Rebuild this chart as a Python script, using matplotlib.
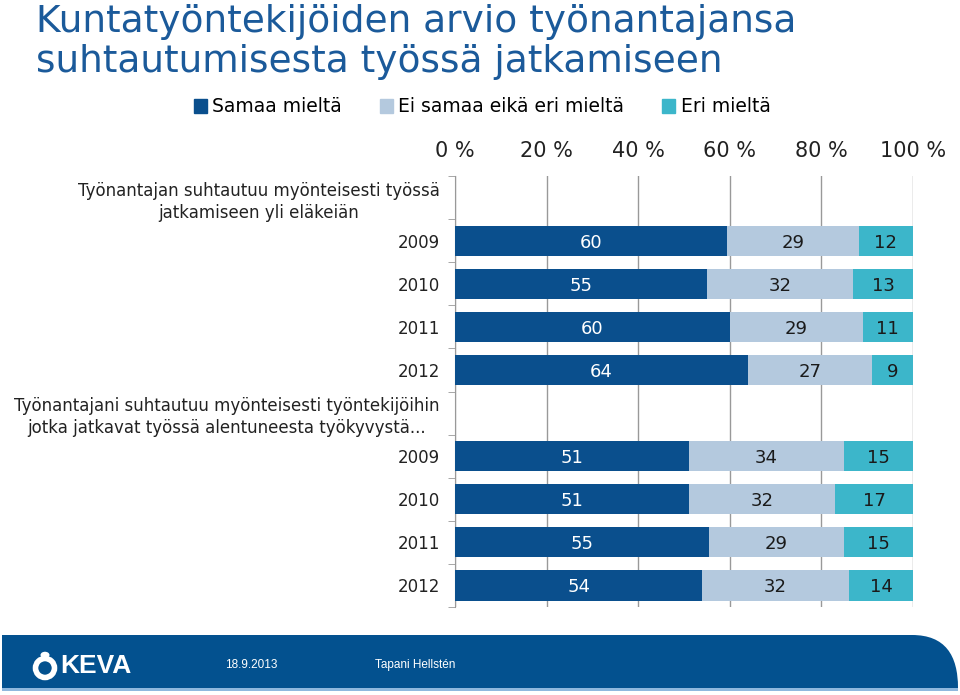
import matplotlib
matplotlib.use("Agg")
import matplotlib.pyplot as plt
import numpy as np
from matplotlib.path import Path
from matplotlib.patches import PathPatch, Circle, Rectangle, Ellipse

plt.rcParams['font.family'] = ['DejaVu Sans']

title = "Kuntatyöntekijöiden arvio työnantajansa\nsuhtautumisesta työssä jatkamiseen"
series_names = ["Samaa mieltä", "Ei samaa eikä eri mieltä", "Eri mieltä"]
row_labels = ["Työnantajan suhtautuu myönteisesti työssä\njatkamiseen yli eläkeiän",
              "2009", "2010", "2011", "2012",
              "Työnantajani suhtautuu myönteisesti työntekijöihin\njotka jatkavat työssä alentuneesta työkyvystä...",
              "2009", "2010", "2011", "2012"]
# None = heading row without bars
samaa = [None, 60, 55, 60, 64, None, 51, 51, 55, 54]
ei_samaa = [None, 29, 32, 29, 27, None, 34, 32, 29, 32]
eri = [None, 12, 13, 11, 9, None, 15, 17, 15, 14]
xtick_labels = ["0 %", "20 %", "40 %", "60 %", "80 %", "100 %"]
footer_date = "18.9.2013"
footer_author = "Tapani Hellstén"

colors = ["#0A4F8D", "#B4C9DE", "#3CB6CA"]
label_colors = ["white", "#1a1a1a", "#1a1a1a"]

W, H = 960, 695
fig = plt.figure(figsize=(W / 100, H / 100), dpi=100)

def fx(px):
    return px / W

def fy(py):
    return 1 - py / H

ax = fig.add_axes([fx(455), fy(607), fx(913) - fx(455), fy(176) - fy(607)])

raw = np.array([[np.nan if v is None else v for v in s] for s in (samaa, ei_samaa, eri)], dtype=float)
totals = np.nansum(raw, axis=0)
totals[totals == 0] = 1
norm = raw / totals
y = np.arange(len(row_labels))
left = np.zeros(len(row_labels))
for i in range(3):
    vals = np.nan_to_num(norm[i])
    bars = ax.barh(y, vals, left=left, height=0.7, color=colors[i], label=series_names[i], zorder=3)
    labs = ["" if np.isnan(v) else f"{int(v)}" for v in raw[i]]
    texts = ax.bar_label(bars, labels=labs, label_type='center', color=label_colors[i], fontsize=13)
    for t in texts:
        t.set_va('center_baseline')
    left += vals

ax.set_ylim(len(row_labels) - 0.5, -0.5)
ax.set_xlim(0, 1)
ax.set_yticks(y)
ax.set_yticklabels(row_labels, fontsize=12, color="#222222", multialignment='center',
                   linespacing=1.3)
ax.set_yticks(np.arange(-0.5, len(row_labels), 1), minor=True)
ax.tick_params(axis='y', which='major', length=0, pad=11)
ax.tick_params(axis='y', which='minor', length=5, color="#999999", direction='out')

ax.set_xticks(np.linspace(0, 1, 6))
ax.set_xticklabels(xtick_labels, fontsize=15, color="#222222")
ax.xaxis.tick_top()
ax.tick_params(axis='x', length=0, pad=11)
ax.grid(axis='x', color="#999999", linewidth=1, zorder=0)
for s in ['top', 'right', 'bottom']:
    ax.spines[s].set_visible(False)
ax.spines['left'].set_color("#999999")

# Title
fig.text(fx(36), fy(4), title, fontsize=27, color="#1B5A9A", ha='left', va='top', linespacing=1.15)

# Legend
handles = [Rectangle((0, 0), 1, 1, color=c) for c in colors]
fig.legend(handles=handles, labels=series_names, loc='center', bbox_to_anchor=(fx(482), fy(107)),
           ncol=3, frameon=False, fontsize=13.5, handlelength=0.7, handleheight=0.7,
           handletextpad=0.3, columnspacing=2.0)

# Footer band
x0, x1 = fx(2), fx(958)
yt, yb = fy(635), fy(688)
verts = [(x0, yb), (x0, yt), (fx(912), yt), (fx(945), yt), (x1, fy(655)), (x1, yb), (x0, yb)]
codes = [Path.MOVETO, Path.LINETO, Path.LINETO, Path.CURVE4, Path.CURVE4, Path.CURVE4, Path.CLOSEPOLY]
fig.patches.append(PathPatch(Path(verts, codes), facecolor="#03518F", edgecolor='none',
                             transform=fig.transFigure))
fig.patches.append(Rectangle((x0, fy(691)), x1 - x0, fy(688) - fy(691), facecolor="#8FB8DE",
                             edgecolor='none', transform=fig.transFigure))

# Logo
fig.patches.append(Circle((fx(45), fy(655)), 4.5 / W, facecolor='white', edgecolor='none',
                          transform=fig.transFigure))
fig.patches.append(Ellipse((fx(45), fy(668)), 19 / W, 19 / H, facecolor='none', edgecolor='white',
                           linewidth=4, transform=fig.transFigure))
fig.text(fx(60), fy(666), "KEVA", fontsize=19, color='white', ha='left', va='center',
         fontweight='bold', family='Liberation Sans')
fig.text(fx(225), fy(665), footer_date, fontsize=8.5, color='white', ha='left', va='center',
         family='Liberation Sans')
fig.text(fx(375), fy(665), footer_author, fontsize=8.5, color='white', ha='left', va='center',
         family='Liberation Sans')

fig.savefig("out.png", dpi=100)
